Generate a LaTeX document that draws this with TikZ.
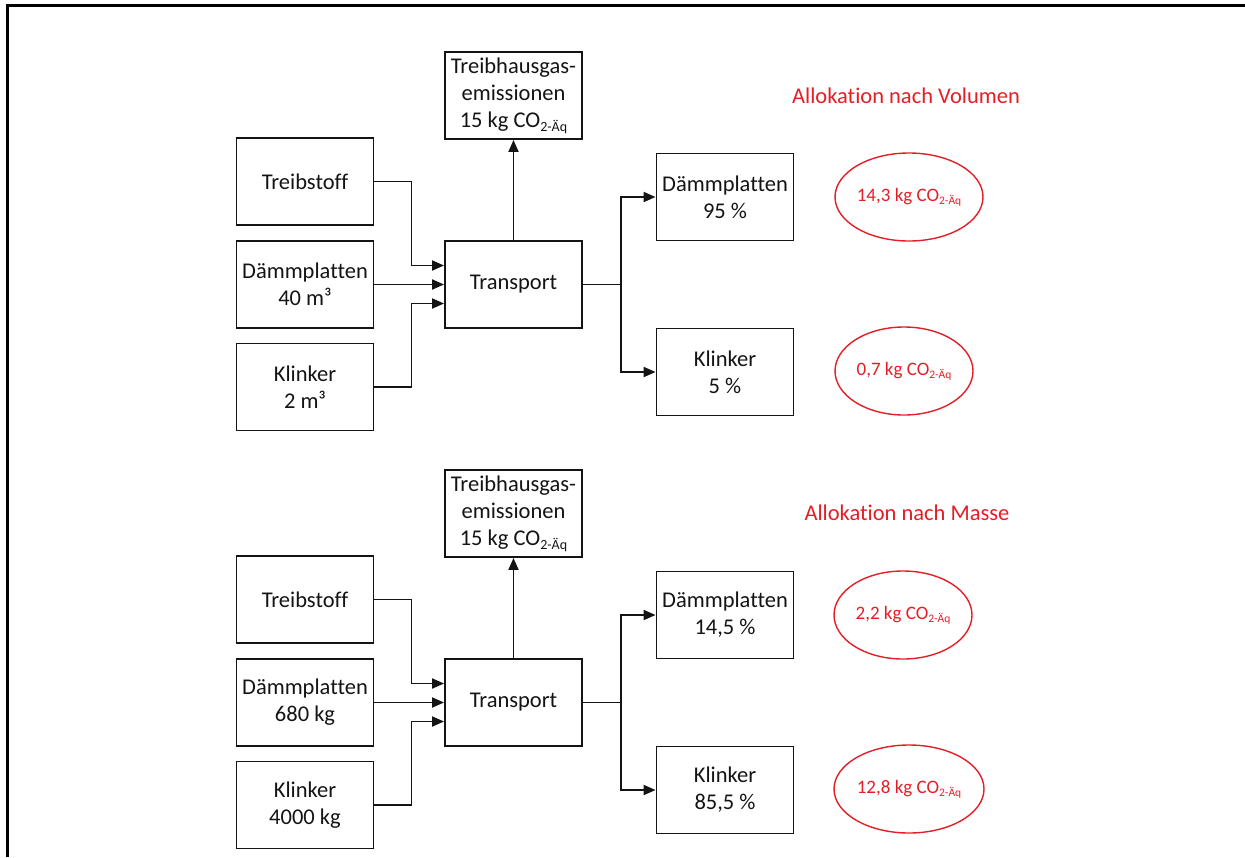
\documentclass[tikz,border=0pt]{standalone}
\usepackage{fontspec}
\setmainfont{Carlito}[Ligatures=NoCommon]
\usetikzlibrary{arrows.meta,shapes.geometric}
\definecolor{allored}{RGB}{228,30,38}
\definecolor{ink}{RGB}{20,20,20}
% CO2 equivalent with lowered suffix; argument = suffix size in pt
\newcommand\coaeq[1]{CO\raisebox{-0.35ex}{\fontsize{#1}{#1}\selectfont 2-Äq}}
\begin{document}
\begin{tikzpicture}[x=1pt,y=-1pt,
  every node/.style={text=ink},
  procbox/.style={draw=ink,line width=1.9pt,minimum width=137pt,minimum height=87pt,
    align=center,inner sep=2pt,font=\fontsize{22.5}{27}\selectfont},
  resell/.style={ellipse,draw=allored,line width=1.4pt,inner sep=0pt,
    text=allored,font=\fontsize{19}{22}\selectfont},
  headline/.style={text=allored,font=\fontsize{22.5}{26}\selectfont},
  flow/.style={draw=ink,line width=1.9pt,-{Triangle[length=12pt,width=10pt]}},
  plain/.style={draw=ink,line width=1.9pt}]
\useasboundingbox (0,0) rectangle (1245,857);
% frame
\draw[line width=3pt,black] (7.5,857) -- (7.5,5.5) -- (1245,5.5);

% ---------- allocation by volume ----------
\node[procbox] (ghgA) at (513.5,95.5) {Treibhausgas-\\emissionen\\15 kg \coaeq{14}};
\node[procbox] (fuelA) at (305,181.5) {Treibstoff};
\node[procbox] (insA) at (305,284.5) {Dämmplatten\\40 m³};
\node[procbox] (clkA) at (305,387) {Klinker\\2 m³};
\node[procbox] (trA) at (513.5,284.5) {Transport};
\node[procbox] (insoA) at (725,197) {Dämmplatten\\95 \%};
\node[procbox] (clkoA) at (725,372) {Klinker\\5 \%};
\node[resell,minimum width=148pt,minimum height=88pt] (eA1) at (909,197) {14,3 kg \coaeq{11.5}};
\node[resell,minimum width=138pt,minimum height=88pt] (eA2) at (904,371) {0,7 kg \coaeq{11.5}};
\node[headline] (hA) at (906,96) {Allokation nach Volumen};

\draw[flow] (fuelA.east) -- ++(37,0) |- ([yshift=19pt]trA.west);
\draw[flow] (insA.east) -- (trA.west);
\draw[flow] (clkA.east) -- ++(37,0) |- ([yshift=-19pt]trA.west);
\draw[flow] (trA.north) -- (ghgA.south);
\draw[plain] (trA.east) -- ++(38,0) coordinate (brA);
\draw[flow] (brA) |- (insoA.west);
\draw[flow] (brA) |- (clkoA.west);

% ---------- allocation by mass ----------
\node[procbox] (ghgB) at (513.5,513.5) {Treibhausgas-\\emissionen\\15 kg \coaeq{14}};
\node[procbox] (fuelB) at (305,599.5) {Treibstoff};
\node[procbox] (insB) at (305,702.5) {Dämmplatten\\680 kg};
\node[procbox] (clkB) at (305,805) {Klinker\\4000 kg};
\node[procbox] (trB) at (513.5,702.5) {Transport};
\node[procbox] (insoB) at (725,615) {Dämmplatten\\14,5 \%};
\node[procbox] (clkoB) at (725,790) {Klinker\\85,5 \%};
\node[resell,minimum width=138pt,minimum height=88pt] (eB1) at (903,615) {2,2 kg \coaeq{11.5}};
\node[resell,minimum width=150pt,minimum height=88pt] (eB2) at (909,789) {12,8 kg \coaeq{11.5}};
\node[headline] (hB) at (907,513) {Allokation nach Masse};

\draw[flow] (fuelB.east) -- ++(37,0) |- ([yshift=19pt]trB.west);
\draw[flow] (insB.east) -- (trB.west);
\draw[flow] (clkB.east) -- ++(37,0) |- ([yshift=-19pt]trB.west);
\draw[flow] (trB.north) -- (ghgB.south);
\draw[plain] (trB.east) -- ++(38,0) coordinate (brB);
\draw[flow] (brB) |- (insoB.west);
\draw[flow] (brB) |- (clkoB.west);
\end{tikzpicture}
\end{document}
